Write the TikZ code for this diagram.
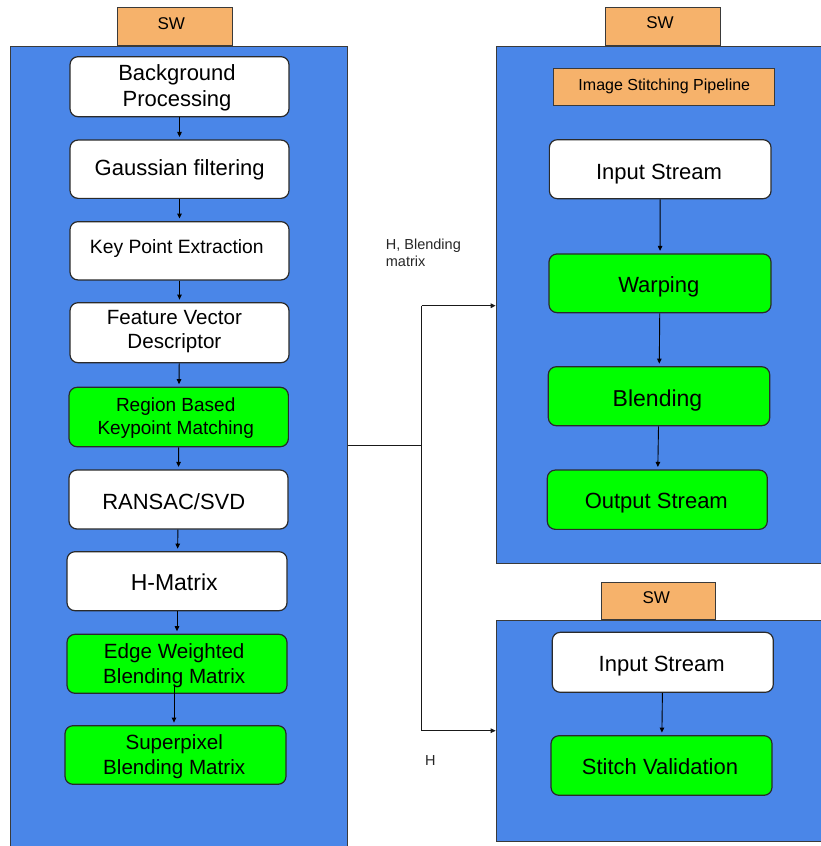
\documentclass[tikz,border=0pt]{standalone}
\usepackage{fontspec}
\setmainfont{Liberation Sans}
\usetikzlibrary{arrows.meta,calc}

\definecolor{panelblue}{HTML}{4A86E8}
\definecolor{taborange}{HTML}{F6B26B}
\definecolor{accgreen}{HTML}{00FF00}
\definecolor{edgegray}{HTML}{3A3A3A}
\definecolor{boxedge}{HTML}{2A2A2A}

\tikzset{
  panel/.style={draw=edgegray, fill=panelblue, line width=1pt, rectangle, inner sep=0pt},
  tab/.style={draw=edgegray, fill=taborange, line width=1pt, rectangle, inner sep=0pt},
  stage/.style={draw=boxedge, rounded corners=8pt, line width=1.2pt, inner sep=0pt},
  plainstage/.style={stage, fill=white},
  accelstage/.style={stage, fill=accgreen},
  sz/.style 2 args={minimum width=#1pt, minimum height=#2pt},
  fs/.style 2 args={font=\fontsize{#1}{#2}\selectfont},
  % text set inside a box; struts keep the cap line centred the same way in every box
  caption/.style={inner sep=0pt, align=center, text=black,
    execute at begin node={\rule{0pt}{0.83em}},
    execute at end node={\rule[-0.21em]{0pt}{0pt}}},
  arr/.style={-{Triangle[length=5pt,width=4.5pt]}, line width=0.9pt, shorten >=2.5pt},
  link/.style={line width=1.1pt, draw=black!90},
  note/.style={inner sep=0pt, font=\fontsize{14.5}{16.7}\selectfont, align=left, text=black!85}
}

\begin{document}
\begin{tikzpicture}[x=1pt, y=-1pt]
\useasboundingbox (0,0) rectangle (821,846);
\clip (0,0) rectangle (821,846);

% software panels
\node[panel, anchor=north west, sz={337.3}{802}] (lp) at (10,45.7) {};
\node[panel, anchor=north west, sz={327}{517.6}] (tp) at (495.7,45.7) {};
\node[panel, anchor=north west, sz={327}{221}] (bp) at (495.7,620) {};

% SW tabs
\node[tab, sz={115}{38.4}] (swl) at (174.5,26.5) {};
\node[tab, sz={115.3}{38.4}] (swt) at (662.7,26.5) {};
\node[tab, sz={114.4}{37.3}] (swb) at (658.5,601.3) {};
\node[caption, fs={17}{20}] (swlt) at (171.3,23.8) {SW};
\node[caption, fs={17}{20}] (swtt) at (660,23.5) {SW};
\node[caption, fs={17}{20}] (swbt) at (656.3,598.1) {SW};

% left processing chain
\node[plainstage, sz={219}{60}] (bg) at (179.5,86.7) {};
\node[plainstage, sz={219}{58.3}] (gf) at (179.5,169.2) {};
\node[plainstage, sz={219}{58.3}] (kpe) at (179.5,250.8) {};
\node[plainstage, sz={219}{60}] (fvd) at (179.5,332.7) {};
\node[accelstage, sz={219.3}{59.4}] (rbkm) at (178.7,417) {};
\node[plainstage, sz={219}{59}] (rs) at (178.5,499.5) {};
\node[plainstage, sz={220}{59}] (hm) at (177,581.2) {};
\node[accelstage, sz={220}{59}] (ew) at (177,663.8) {};
\node[accelstage, sz={221}{58.6}] (sp) at (175.5,755) {};

\node[caption, fs={22}{26.5}] (bgt) at (177,87.6) {Background\\Processing};
\node[caption, fs={22}{26.5}] (gft) at (179.7,168.9) {Gaussian filtering};
\node[caption, fs={19.3}{23}] (kpet) at (176.8,247.2) {Key Point Extraction};
\node[caption, fs={20.6}{23.8}] (fvdt) at (174.4,331.9) {Feature Vector\\Descriptor};
\node[caption, fs={19}{23.3}] (rbkmt) at (175.7,418.3) {Region Based\\Keypoint Matching};
\node[caption, fs={22}{26}] (rst) at (173.8,502.3) {RANSAC/SVD};
\node[caption, fs={23}{27}] (hmt) at (174.2,583.1) {H-Matrix};
\node[caption, fs={20.6}{24.8}] (ewt) at (174.2,665.6) {Edge Weighted\\Blending Matrix};
\node[caption, fs={20.6}{24.9}] (spt) at (174.2,756.3) {Superpixel\\Blending Matrix};

\draw[arr] (bg) -- (gf);
\draw[arr] (gf) -- (kpe);
\draw[arr] (kpe) -- (fvd);
\draw[arr] (fvd) -- (rbkm);
\draw[arr] (rbkm) -- (rs);
\draw[arr] (rs) -- (hm);
\draw[arr] (hm) -- (ew);
\draw[arr, shorten <=-8pt] ([xshift=-3pt]ew.south) -- ([xshift=-1.5pt]sp.north);

% image stitching pipeline
\node[tab, sz={221.4}{37.3}] (isp) at (664,87.3) {};
\node[plainstage, sz={221.7}{59}] (in1) at (660.2,169.2) {};
\node[accelstage, sz={222}{58.7}] (warp) at (660,283.3) {};
\node[accelstage, sz={221.4}{59}] (blend) at (659,396.2) {};
\node[accelstage, sz={220}{59.3}] (out) at (657.3,499.7) {};

\node[caption, fs={16}{19}] (ispt) at (664.3,85.5) {Image Stitching Pipeline};
\node[caption, fs={22}{26}] (in1t) at (659,172.3) {Input Stream};
\node[caption, fs={22}{26}] (warpt) at (658.8,285.4) {Warping};
\node[caption, fs={23}{27}] (blendt) at (657.5,399.8) {Blending};
\node[caption, fs={22}{26}] (outt) at (656.3,501.9) {Output Stream};

\draw[arr] (in1) -- (warp);
\draw[arr] (warp) -- (blend);
\draw[arr] (blend) -- (out);

% stitch validation
\node[plainstage, sz={221}{60}] (in2) at (662.8,662.3) {};
\node[accelstage, sz={221}{59.6}] (sv) at (661.5,765.5) {};
\node[caption, fs={22}{26}] (in2t) at (661.7,664.8) {Input Stream};
\node[caption, fs={22}{26}] (svt) at (660,767.8) {Stitch Validation};

\draw[arr] (in2) -- (sv);

% results handed to the other panels
\coordinate (split) at (421.7,445.7);
\coordinate (htop) at (421.7,305.7);
\coordinate (hbot) at (421.7,730.7);
\draw[link] (lp.east |- split) -- (split);
\draw[link] (htop) -- (hbot);
\draw[link, arr, shorten >=0pt, line width=1.4pt] (htop) -- (tp.west |- htop);
\draw[link, arr, shorten >=0pt] (hbot) -- (bp.west |- hbot);

\node[note, anchor=north west] (lblhb) at (385.7,238.6) {H, Blending\\matrix};
\node[note, anchor=base west] (lblh) at (425,765.7) {H};
\end{tikzpicture}
\end{document}
